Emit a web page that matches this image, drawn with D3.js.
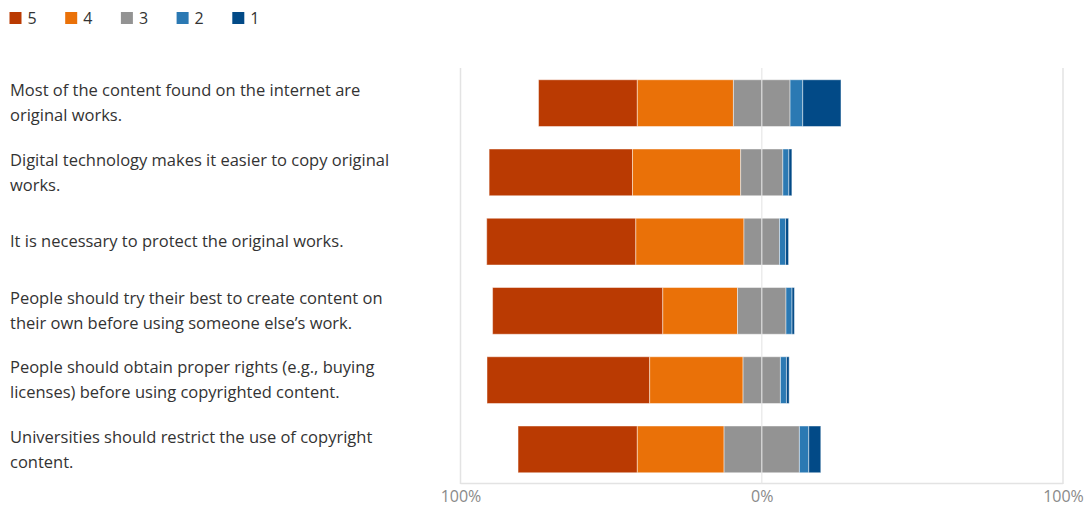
<!DOCTYPE html>
<html><head><meta charset="utf-8">
<script src="https://cdn.jsdelivr.net/npm/d3@7"></script>
<style>body{margin:0;background:#fff;}svg{display:block;}</style>
</head><body>
<svg id="chart" width="1091" height="508"></svg>
<script>
const categories = [
  "Most of the content found on the internet are original works.",
  "Digital technology makes it easier to copy original works.",
  "It is necessary to protect the original works.",
  "People should try their best to create content on their own before using someone else’s work.",
  "People should obtain proper rights (e.g., buying licenses) before using copyrighted content.",
  "Universities should restrict the use of copyright content."
];
const seriesNames = ["5", "4", "3", "2", "1"];
const s5 = [32.8, 47.6, 49.5, 56.5, 54.0, 39.6];
const s4 = [31.9, 35.9, 35.9, 24.8, 31.0, 28.8];
const s3 = [18.8, 14.0, 11.8, 16.1, 12.4, 25.0];
const s2 = [4.2, 2.0, 2.0, 2.0, 2.0, 3.1];
const s1 = [12.7, 1.0, 1.0, 0.8, 0.9, 4.0];
const tickValues = [-100, 0, 100];
const tickLabels = ["100%", "0%", "100%"];
const colors = ["#ba3a02", "#ea7108", "#939393", "#2b79b3", "#024a87"];

const series = [s5, s4, s3, s2, s1];
const svg = d3.select("#chart");
const font = "'Open Sans', 'Noto Sans', sans-serif";

const x = d3.scaleLinear().domain([-100, 100]).range([460.5, 1063]);
const y = d3.scaleBand().domain(d3.range(categories.length)).range([68.5, 484]).paddingInner(0.325).paddingOuter(0.1625);

// gridlines (behind)
svg.append("g").selectAll("line").data(tickValues.filter(v => v !== 0)).join("line")
  .attr("x1", d => x(d)).attr("x2", d => x(d)).attr("y1", 68).attr("y2", 484)
  .attr("stroke", "#e3e3e3").attr("stroke-width", 1.5);
svg.append("line").attr("x1", x(-100)).attr("x2", x(100)).attr("y1", 483.5).attr("y2", 483.5)
  .attr("stroke", "#e3e3e3").attr("stroke-width", 1.5);

// stacked bars
const rows = categories.map((c, i) => {
  let start = -(s5[i] + s4[i] + s3[i] / 2);
  return series.map((s, k) => {
    const seg = {row: i, k, x0: start, x1: start + s[i]};
    start += s[i];
    return seg;
  });
}).flat();

svg.append("g").selectAll("rect").data(rows).join("rect")
  .attr("x", d => x(d.x0)).attr("width", d => x(d.x1) - x(d.x0))
  .attr("y", d => y(d.row)).attr("height", y.bandwidth())
  .attr("fill", d => colors[d.k])
  .attr("stroke", "#ffffff").attr("stroke-opacity", 0.45).attr("stroke-width", 1);

// zero line on top
svg.append("line").attr("x1", x(0)).attr("x2", x(0)).attr("y1", 68).attr("y2", 484)
  .attr("stroke", "#e6e6e6").attr("stroke-opacity", 0.75).attr("stroke-width", 1.5);

// axis labels
const axis = d3.axisBottom(x).tickValues(tickValues).tickFormat((d, i) => tickLabels[i]).tickSize(0);
const ax = svg.append("g").attr("transform", "translate(0,488)").call(axis);
ax.select(".domain").remove();
ax.selectAll("text").attr("fill", "#8a8a8a").style("font-family", font).style("font-size", "16px").attr("dy", "0.71em");

// category labels with wrapping
const labelG = svg.append("g");
const maxW = 390;
categories.forEach((c, i) => {
  const t = labelG.append("text").attr("x", 10).attr("fill", "#333")
    .style("font-family", font).style("font-size", "16.5px");
  const words = c.split(" ");
  let lines = [], cur = [];
  const probe = t.append("tspan");
  words.forEach(w => {
    cur.push(w);
    probe.text(cur.join(" "));
    if (probe.node().getComputedTextLength() > maxW && cur.length > 1) {
      cur.pop(); lines.push(cur.join(" ")); cur = [w];
    }
  });
  lines.push(cur.join(" "));
  probe.remove();
  const lh = 25;
  const cy = y(i) + y.bandwidth() / 2;
  lines.forEach((l, j) => {
    t.append("tspan").attr("x", 10).attr("y", cy + (j - (lines.length - 1) / 2) * lh)
      .attr("dy", "0.35em").text(l);
  });
});

// legend
const lg = svg.append("g").selectAll("g").data(seriesNames).join("g")
  .attr("transform", (d, i) => `translate(${9.5 + i * 55.7},12)`);
lg.append("rect").attr("width", 12).attr("height", 12).attr("fill", (d, i) => colors[i]);
lg.append("text").attr("x", 18).attr("y", 6).attr("dy", "0.35em").attr("fill", "#333")
  .style("font-family", font).style("font-size", "16px").text(d => d);
</script>
</body></html>
